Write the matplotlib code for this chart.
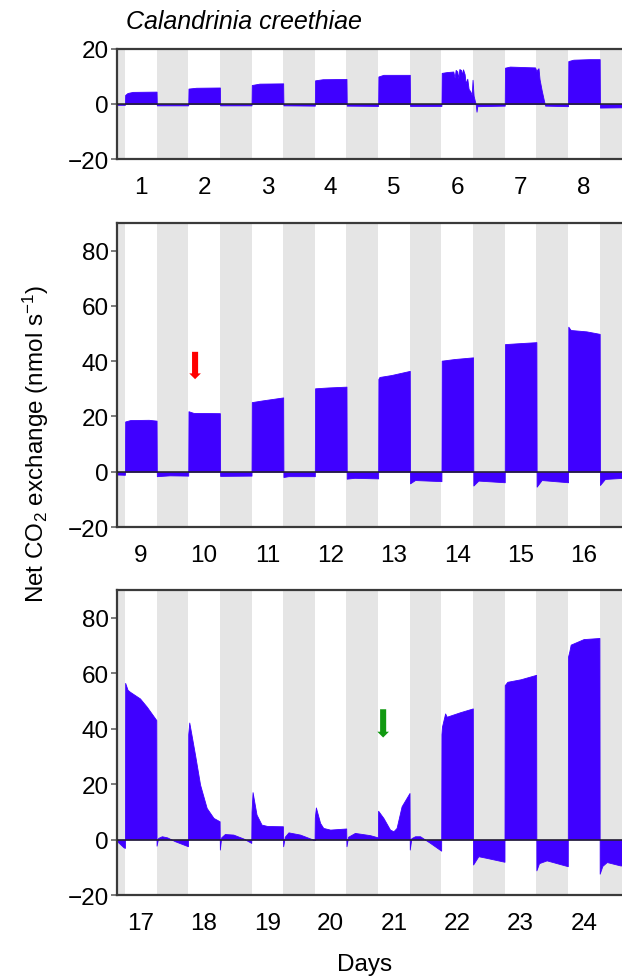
import matplotlib
matplotlib.use('Agg')
from matplotlib import pyplot as plt

plt.rcParams['font.family'] = ['Liberation Sans', 'DejaVu Sans']
plt.rcParams['mathtext.fontset'] = 'custom'
plt.rcParams['mathtext.rm'] = 'Liberation Sans'
plt.rcParams['mathtext.default'] = 'regular'

# time in hours from the left edge of each panel, lights on at 3 h, off at 15 h, every 24 h
day_labels = [['1', '2', '3', '4', '5', '6', '7', '8'],
              ['9', '10', '11', '12', '13', '14', '15', '16'],
              ['17', '18', '19', '20', '21', '22', '23', '24']]

p1_t = [0, 3.0, 3.1, 4, 6, 15, 15.1, 27,
        27.1, 30, 39, 39.1, 51,
        51.1, 54, 63, 63.1, 75,
        75.1, 78, 87, 87.1, 99,
        99.1, 101, 111, 111.1, 123,
        123.1, 125, 127.5, 128, 128.4, 129, 129.4, 129.8, 130.5, 130.8, 131.2, 131.8,
        132.2, 132.8, 133.3, 134, 134.5, 134.8, 135.2, 135.7, 136.0, 136.3, 136.6, 147,
        147.1, 149, 155, 158.5, 159.0, 159.4, 159.8, 160.2, 161, 161.8, 162.3, 171,
        171.1, 173, 179, 183, 183.1, 192]
p1_v = [-0.3, -0.3, 3.3, 4.0, 4.4, 4.5, -0.5, -0.5,
        5.6, 5.9, 6.0, -0.5, -0.5,
        6.9, 7.4, 7.5, -0.5, -0.6,
        8.6, 9.0, 9.1, -0.6, -0.7,
        10.0, 10.6, 10.6, -0.7, -0.7,
        11.3, 11.6, 11.8, 9.5, 12.4, 11.8, 9.3, 12.7, 12.3, 10.5, 12.6, 10.8,
        7.5, 9.2, 5.5, 4.5, 3.2, 8.8, 3.0, 1.0, 0.0, -2.8, -0.8, -0.6,
        13.2, 13.6, 13.4, 13.3, 12.0, 12.6, 13.0, 9.0, 5.0, 1.5, -0.6, -0.8,
        15.6, 16.1, 16.3, 16.3, -1.3, -1.2]

p2_t = [0, 3, 3.1, 5, 12, 15, 15.1, 20, 27,
        27.1, 29, 39, 39.1, 51,
        51.1, 55, 63, 63.1, 65, 75,
        75.1, 80, 87, 87.1, 90, 99,
        99.1, 99.5, 104, 111, 111.1, 113, 123,
        123.1, 128, 135, 135.1, 137, 147,
        147.1, 152, 159, 159.1, 161, 171,
        171.1, 172, 178, 183, 183.1, 185, 192]
p2_v = [-1.0, -1.1, 18.2, 18.7, 18.8, 18.5, -1.6, -1.3, -1.4,
        21.9, 21.3, 21.2, -1.5, -1.4,
        25.2, 25.8, 26.9, -1.9, -1.6, -1.6,
        30.2, 30.5, 30.8, -2.5, -2.2, -2.4,
        33.6, 34.3, 35.0, 36.5, -4.2, -3.0, -3.4,
        40.2, 40.8, 41.4, -5.0, -3.2, -3.8,
        46.2, 46.5, 46.9, -5.4, -3.0, -3.8,
        52.5, 51.3, 50.8, 49.9, -4.8, -2.6, -2.2]

p3_t = [0, 2.5, 3.0, 3.1, 4, 4.9, 8.7, 11.3, 14.9, 15.0, 15.6, 17, 19, 22, 26.9,
        27.0, 27.4, 28.2, 29.6, 31.5, 34, 36.6, 38.9, 39.0, 39.5, 40.9, 44.1, 47.9, 50.9,
        51.0, 51.4, 52.9, 54.8, 57, 62.9, 63.0, 63.6, 65, 69.4, 74.9,
        75.0, 75.4, 77, 78.2, 80.8, 86.9, 87.0, 87.6, 90.2, 95.9, 98.9,
        99.0, 101, 103.5, 104.8, 106, 107.9, 110.9, 111.0, 111.6, 113, 114.9, 118.7, 122.9,
        123.0, 123.2, 124.4, 125, 130, 134.9, 135.0, 137, 140.1, 146.9,
        147.0, 148, 153, 158.9, 159.0, 160, 162.9, 170.9,
        171.0, 171.5, 172, 176.9, 182.9, 183.0, 184, 185.7, 190.7, 192]
p3_v = [-0.6, -2.8, -3.0, 56.5, 54.0, 53.3, 50.9, 47.9, 43.1, -2.2, 0.6, 1.2, 0.8, -0.6, -2.4,
        38.0, 42.2, 38.0, 30.5, 19.8, 11.4, 7.8, 6.6, -3.6, 0.8, 2.0, 1.8, 0.4, -1.2,
        10.0, 17.1, 9.0, 5.4, 4.9, 4.8, -2.4, 1.0, 2.6, 1.8, -0.2,
        8.0, 11.6, 6.0, 4.2, 3.6, 4.0, -2.4, 1.0, 2.4, 1.6, 0.8,
        10.4, 7.8, 3.6, 3.0, 4.2, 12.0, 16.8, -3.6, 0.5, 1.2, 1.2, -1.2, -4.0,
        38.0, 40.7, 45.5, 44.3, 45.9, 47.3, -9.0, -6.0, -6.6, -8.0,
        55.7, 56.9, 57.8, 59.4, -11.1, -8.5, -7.5, -9.6,
        66.0, 67.9, 70.3, 72.3, 72.7, -12.3, -9.5, -8.1, -9.3, -9.4]

traces = [(p1_t, p1_v), (p2_t, p2_v), (p3_t, p3_v)]
ylims = [(-20, 20), (-20, 90), (-20, 90)]
yticks = [[-20, 0, 20], [-20, 0, 20, 40, 60, 80], [-20, 0, 20, 40, 60, 80]]

# arrows: (panel, x hours, y top, y tip, colour)
arrows = [(1, 29.6, 43.4, 33.5, '#ff0000'),
          (2, 100.9, 47.0, 36.8, '#119911')]

fill_color = '#3f00ff'
night_color = '#e5e5e5'
spine_color = '#3a3a3a'

fig = plt.figure(figsize=(6.22, 9.78), dpi=100)

positions = [[0.1881, 0.8364, 0.8248, 0.1125],
             [0.1881, 0.4601, 0.8248, 0.3108],
             [0.1881, 0.0838, 0.8248, 0.3119]]

axes = []
for i, pos in enumerate(positions):
    ax = fig.add_axes(pos)
    t, v = traces[i]
    for d in range(9):
        ax.axvspan(24 * d - 9, 24 * d + 3, color=night_color, lw=0, zorder=0)
    ax.fill_between(t, v, 0, color=fill_color, lw=0.6, edgecolor=fill_color, zorder=2)
    ax.axhline(0, color='#222222', lw=1.1, zorder=3)
    ax.set_xlim(0, 194.5)
    ax.set_ylim(*ylims[i])
    ax.set_yticks(yticks[i])
    ax.set_xticks([24 * d + 9 for d in range(8)])
    ax.set_xticklabels(day_labels[i])
    ax.tick_params(axis='x', length=0, pad=12, labelsize=17.5)
    ax.tick_params(axis='y', length=4, width=1.2, color='#666666', pad=2, labelsize=17.5)
    for s in ax.spines.values():
        s.set_color(spine_color)
        s.set_linewidth(1.6)
    axes.append(ax)

for k, x, ytop, ytip, c in arrows:
    axes[k].arrow(x, ytop, 0, ytip - ytop, width=2.3, head_width=4.4, head_length=2.1,
                  length_includes_head=True, color=c, lw=0, zorder=4)

fig.text(126 / 622, 1 - 22 / 978, 'Calandrinia creethiae', style='italic',
         fontsize=18, ha='left', va='center')
fig.text(36 / 622, 0.546, 'Net CO$_2$ exchange (nmol s$^{-1}$)', rotation=90,
         fontsize=17.5, ha='center', va='center')
fig.text(365 / 622, 1 - 965 / 978, 'Days', fontsize=17.5, ha='center', va='center')

fig.savefig('out.png', dpi=100)
